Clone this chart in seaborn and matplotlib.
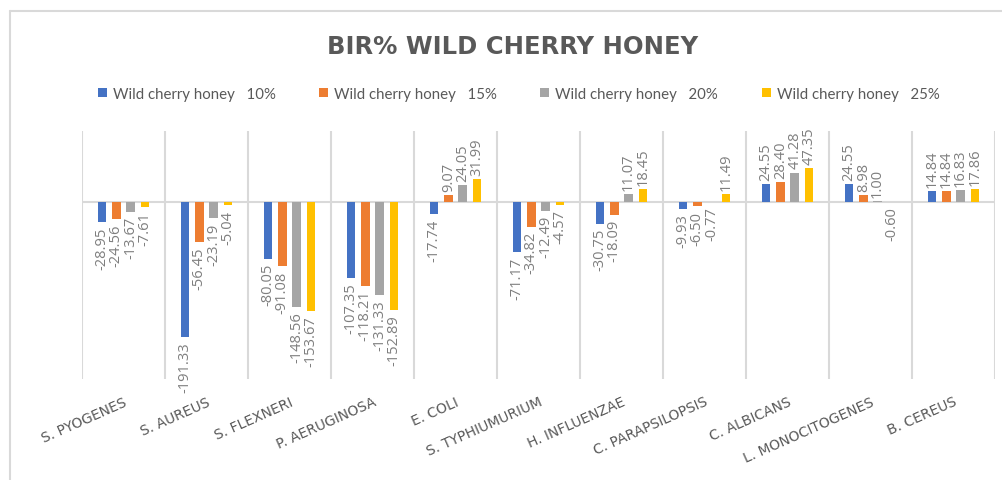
import matplotlib
matplotlib.use('Agg')
import matplotlib.pyplot as plt
from matplotlib.lines import Line2D
import pandas as pd
import seaborn as sns

organisms = ['S. PYOGENES', 'S. AUREUS', 'S. FLEXNERI', 'P. AERUGINOSA', 'E. COLI',
             'S. TYPHIUMURIUM', 'H. INFLUENZAE', 'C. PARAPSILOPSIS', 'C. ALBICANS',
             'L. MONOCITOGENES', 'B. CEREUS']
series_names = ['Wild cherry honey   10%', 'Wild cherry honey   15%',
                'Wild cherry honey   20%', 'Wild cherry honey   25%']
bir_10 = [-28.95, -191.33, -80.05, -107.35, -17.74, -71.17, -30.75, -9.93, 24.55, 24.55, 14.84]
bir_15 = [-24.56, -56.45, -91.08, -118.21, 9.07, -34.82, -18.09, -6.50, 28.40, 8.98, 14.84]
bir_20 = [-13.67, -23.19, -148.56, -131.33, 24.05, -12.49, 11.07, -0.77, 41.28, 1.00, 16.83]
bir_25 = [-7.61, -5.04, -153.67, -152.89, 31.99, -4.57, 18.45, 11.49, 47.35, -0.60, 17.86]
colors = ['#4472C4', '#ED7D31', '#A5A5A5', '#FFC000']

rows = []
for name, vals in zip(series_names, [bir_10, bir_15, bir_20, bir_25]):
    for org, v in zip(organisms, vals):
        rows.append({'organism': org, 'bir': v, 'series': name})
df = pd.DataFrame(rows)

sns.set_style('white')
plt.rcParams['font.family'] = ['Lato', 'DejaVu Sans']
text_grey = '#595959'
grid_grey = '#D9D9D9'

fig = plt.figure(figsize=(10.03, 4.81), dpi=100)
ax = fig.add_axes([82 / 1003, 1 - 380 / 481, 913 / 1003, 248 / 481])

sns.barplot(data=df, x='organism', y='bir', hue='series', palette=colors, saturation=1,
            width=0.69, gap=0.4, errorbar=None, linewidth=0, ax=ax, legend=True)

for cont in ax.containers:
    ax.bar_label(cont, fmt='%.2f', rotation=90, padding=3, fontsize=10.5,
                 color='#7F7F7F', family='Open Sans')

ax.set_xlim(-0.5, len(organisms) - 0.5)
ax.set_ylim(-250, 100)
ax.set_yticks([])
ax.set_xticks([i - 0.5 for i in range(len(organisms) + 1)], minor=True)
ax.grid(which='minor', axis='x', color=grid_grey, lw=1.5)
ax.axhline(0, color=grid_grey, lw=1.5, zorder=0.5)
for s in ax.spines.values():
    s.set_visible(False)
ax.set_xlabel('')
ax.set_ylabel('')
ax.tick_params(axis='x', which='both', length=0, pad=11)
ax.set_xticks(range(len(organisms)))
ax.set_xticklabels(organisms, rotation=24, ha='right', va='top', rotation_mode='anchor',
                   fontsize=10, color=text_grey, family='DejaVu Sans')

handles, labels = ax.get_legend_handles_labels()
ax.get_legend().remove()
fig.legend(handles, labels, loc='center', bbox_to_anchor=(0.517, 1 - 95 / 481), ncol=4,
           frameon=False, fontsize=10.8, labelcolor=text_grey, handlelength=0.6,
           handleheight=0.6, handletextpad=0.4, columnspacing=2.9)

fig.text(0.511, 1 - 47 / 481, 'BIR% WILD CHERRY HONEY', ha='center', va='center',
         fontsize=17.5, fontweight='bold', color=text_grey, family='DejaVu Sans')

# chart border (only top and left edges fall inside the picture)
fig.add_artist(Line2D([10 / 1003, 10 / 1003], [0, 1 - 12 / 481], color=grid_grey, lw=1.5))
fig.add_artist(Line2D([10 / 1003, 1], [1 - 12 / 481, 1 - 12 / 481], color=grid_grey, lw=1.5))

fig.savefig('out.png', dpi=100, facecolor='white')
